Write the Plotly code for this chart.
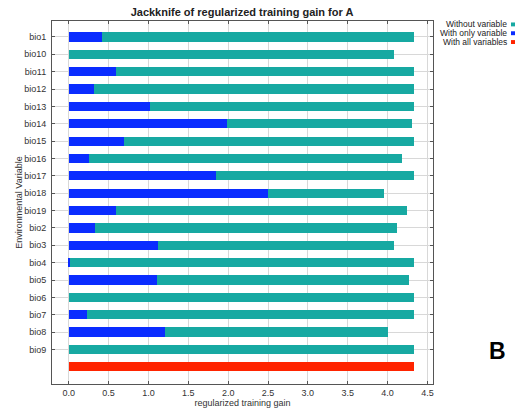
import plotly.graph_objects as go

# Jackknife results for species A (regularized training gain)
variables = ["bio1", "bio10", "bio11", "bio12", "bio13", "bio14", "bio15", "bio16",
             "bio17", "bio18", "bio19", "bio2", "bio3", "bio4", "bio5", "bio6",
             "bio7", "bio8", "bio9"]
without_variable = [4.33, 4.08, 4.33, 4.33, 4.33, 4.31, 4.33, 4.18, 4.33, 3.96,
                    4.25, 4.12, 4.08, 4.33, 4.27, 4.33, 4.33, 4.01, 4.33]
with_only_variable = [0.42, 0.0, 0.59, 0.32, 1.02, 1.99, 0.69, 0.25, 1.85, 2.50,
                      0.59, 0.33, 1.12, 0.02, 1.11, 0.0, 0.23, 1.21, 0.0]
all_variables_gain = 4.33
x_ticks = [0.0, 0.5, 1.0, 1.5, 2.0, 2.5, 3.0, 3.5, 4.0, 4.5]

TEAL = "#17a9a2"
BLUE = "#0a2cff"
RED = "#ff2400"
FONT = "Liberation Sans"

rows = list(range(len(variables)))
all_row = len(variables)
bar_w = 0.53

fig = go.Figure()
fig.add_trace(go.Bar(y=rows, x=without_variable, orientation="h", width=bar_w,
                     marker=dict(color=TEAL, line=dict(width=0)),
                     name="Without variable", showlegend=False))
fig.add_trace(go.Bar(y=rows, x=with_only_variable, orientation="h", width=bar_w,
                     marker=dict(color=BLUE, line=dict(width=0)),
                     name="With only variable", showlegend=False))
fig.add_trace(go.Bar(y=[all_row], x=[all_variables_gain], orientation="h", width=bar_w,
                     marker=dict(color=RED, line=dict(width=0)),
                     name="With all variables", showlegend=False))

# Legend drawn as right-aligned labels followed by small colour squares
legend_items = [("Without variable", TEAL), ("With only variable", BLUE),
                ("With all variables", RED)]
for i, (label, color) in enumerate(legend_items):
    y_px = 24.5 + i * 9
    y_paper = (392 - y_px) / 371
    fig.add_annotation(text=label, xref="paper", yref="paper",
                       x=(508 - 52) / 381, y=y_paper, xanchor="right", yanchor="middle",
                       showarrow=False, borderpad=0,
                       font=dict(family=FONT, size=8.5, color="#222"))
    fig.add_shape(type="rect", xref="paper", yref="paper",
                  x0=(511 - 52) / 381, x1=(515 - 52) / 381,
                  y0=y_paper - 2 / 371, y1=y_paper + 2 / 371,
                  fillcolor=color, line=dict(width=0))

fig.add_annotation(text="<b>B</b>", xref="paper", yref="paper",
                   x=(497 - 52) / 381, y=(392 - 358) / 371, xanchor="center",
                   yanchor="middle", showarrow=False,
                   font=dict(family=FONT, size=23, color="#000"))

axis_common = dict(showline=True, linecolor="#555", linewidth=1, mirror="allticks",
                   ticks="inside", ticklen=3, tickcolor="#555",
                   showgrid=True, gridcolor="#d8d8d8", gridwidth=1, zeroline=False,
                   tickfont=dict(family=FONT, size=9, color="#333"))

fig.update_layout(
    width=518, height=418,
    margin=dict(l=52, r=85, t=21, b=26),
    paper_bgcolor="white", plot_bgcolor="white",
    barmode="overlay", bargap=0,
    title=dict(text="<b>Jackknife of regularized training gain for A</b>",
               x=242 / 518, xanchor="center", y=1 - 12 / 418, yanchor="middle",
               font=dict(family=FONT, size=11, color="#222")),
    xaxis=dict(range=[-0.21, 4.57], tickvals=x_ticks,
               ticktext=[f"{v:.1f}" for v in x_ticks],
               title=dict(text="regularized training gain", standoff=2,
                          font=dict(family=FONT, size=9, color="#333")),
               **axis_common),
    yaxis=dict(range=[19.99, -0.92], tickvals=rows, ticktext=variables,
               ticklabelstandoff=3,
               title=dict(text="Environmental Variable", standoff=0,
                          font=dict(family=FONT, size=9, color="#333")),
               **axis_common),
)

fig.write_html("out.html")
